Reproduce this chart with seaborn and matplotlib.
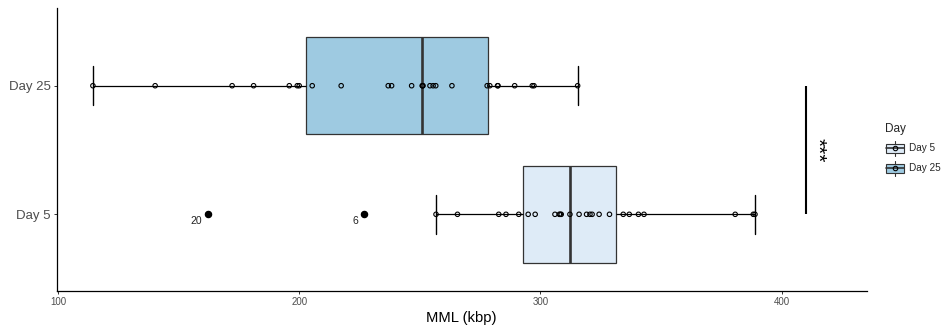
import numpy as np
import pandas as pd
import matplotlib
matplotlib.use("Agg")
import matplotlib.pyplot as plt
import seaborn as sns
from matplotlib.legend_handler import HandlerBase
from matplotlib.patches import Rectangle, Patch
from matplotlib.lines import Line2D

# ---- data ----
days = ["Day 5", "Day 25"]
day5_mml = [162.2, 226.9, 256.7, 265.6, 282.7, 285.7, 291.0, 294.9, 297.8,
            306.0, 307.8, 308.2, 308.6, 312.2, 316.0, 319.1, 320.5, 321.4,
            324.3, 328.6, 334.3, 336.8, 340.6, 342.9, 380.7, 388.2, 388.9]
day25_mml = [114.5, 140.3, 172.2, 181.1, 195.9, 199.2, 200.0, 205.4, 217.4,
             236.9, 238.3, 246.6, 251.0, 251.1, 251.3, 254.2, 255.5, 256.6,
             263.3, 277.9, 279.0, 282.2, 282.4, 289.3, 296.6, 297.3, 315.4]
outlier_values = [162.2, 226.9]
outlier_labels = ["20", "6"]
fill_colors = ["#DEEBF7", "#9ECAE1"]
sig_label = "***"
sig_x = 410
x_ticks = [100, 200, 300, 400]

df = pd.DataFrame({
    "Day": ["Day 5"] * len(day5_mml) + ["Day 25"] * len(day25_mml),
    "MML": day5_mml + day25_mml,
})

sns.set_theme(style="white")
plt.rcParams["font.family"] = ["Liberation Sans", "DejaVu Sans"]

fig = plt.figure(figsize=(9.46, 3.28), dpi=100)
W, H = 946, 328
left, right, top, bottom = 56.7, 866.7, 8.3, 290.7
ax = fig.add_axes([left / W, 1 - bottom / H, (right - left) / W, (bottom - top) / H])

order = ["Day 25", "Day 5"]
pal = dict(zip(days, fill_colors))

sns.boxplot(
    data=df, x="MML", y="Day", hue="Day", order=order, hue_order=days,
    palette=pal, saturation=1, width=0.75, whis=1.5,
    linecolor="#333333", linewidth=0.9, fliersize=4.4,
    flierprops=dict(marker="o", markerfacecolor="black", markeredgecolor="black"),
    whiskerprops=dict(color="black", linewidth=0.9),
    capprops=dict(color="black", linewidth=1.0),
    medianprops=dict(color="#333333", linewidth=1.9),
    capwidths=0.3,
    legend=False, ax=ax,
)

n_before = len(ax.collections)
sns.stripplot(data=df, x="MML", y="Day", order=order, jitter=False,
              color="black", size=3.2, linewidth=0.8, ax=ax, zorder=4)
for coll in ax.collections[n_before:]:
    coll.set_facecolor("none")
    coll.set_edgecolor("black")
    coll.set_linewidth(0.8)

# outlier labels
for val, lab in zip(outlier_values, outlier_labels):
    ax.annotate(lab, xy=(val, 1), xytext=(-4, -5), textcoords="offset points",
                ha="right", va="center", fontsize=7.5, color="#222222")

# significance bracket
ax.plot([sig_x, sig_x], [0, 1], color="black", lw=1.5, solid_capstyle="butt")
ax.text(sig_x + 4.8, 0.5, sig_label, rotation=-90, ha="center", va="center",
        fontsize=15, color="black")

ax.set_xlim(99.5, 435.2)
ax.set_ylim(1.594, -0.602)
ax.set_xticks(x_ticks)
ax.set_xticklabels([str(t) for t in x_ticks])
ax.set_xlabel("MML (kbp)", fontsize=10.6, color="black", labelpad=3)
ax.set_ylabel("")
for s in ["top", "right"]:
    ax.spines[s].set_visible(False)
for s in ["left", "bottom"]:
    ax.spines[s].set_color("black")
    ax.spines[s].set_linewidth(0.9)
ax.tick_params(axis="x", length=2.5, width=0.7, color="#333333", labelsize=7,
               labelcolor="#4D4D4D", pad=2, bottom=True)
ax.tick_params(axis="y", length=2.5, width=0.7, color="#333333", labelsize=9.5,
               labelcolor="#4D4D4D", pad=2, left=True)


class BoxKeyHandler(HandlerBase):
    def create_artists(self, legend, orig_handle, xdescent, ydescent, width,
                       height, fontsize, trans):
        fc = orig_handle.get_facecolor()
        x0, y0 = -xdescent, -ydescent
        cx, cy = x0 + width / 2, y0 + height / 2
        arts = [
            Line2D([cx, cx], [y0 + 0.02 * height, y0 + 0.98 * height],
                   color="#333333", lw=0.8, transform=trans),
            Rectangle((x0 + 0.03 * width, y0 + 0.22 * height), 0.94 * width,
                      0.56 * height, facecolor=fc, edgecolor="#333333", lw=0.8,
                      transform=trans),
            Line2D([x0 + 0.03 * width, x0 + 0.97 * width], [cy, cy],
                   color="#333333", lw=1.2, transform=trans),
            Line2D([cx], [cy], marker="o", ms=3.2, mfc="none", mec="black",
                   mew=0.8, ls="none", transform=trans),
        ]
        return arts


handles = [Patch(facecolor=c) for c in fill_colors]
leg = fig.legend(handles, days, title="Day", loc="upper left",
                 bbox_to_anchor=(885 / W, 1 - 123 / H), frameon=False,
                 fontsize=7.2, title_fontsize=8.5, handlelength=2.0,
                 handleheight=2.0, handletextpad=0.4, labelspacing=0.45,
                 borderpad=0, borderaxespad=0, alignment="left",
                 handler_map={Patch: BoxKeyHandler()})
leg._legend_box.sep = 4

fig.savefig("out.png", dpi=100)
